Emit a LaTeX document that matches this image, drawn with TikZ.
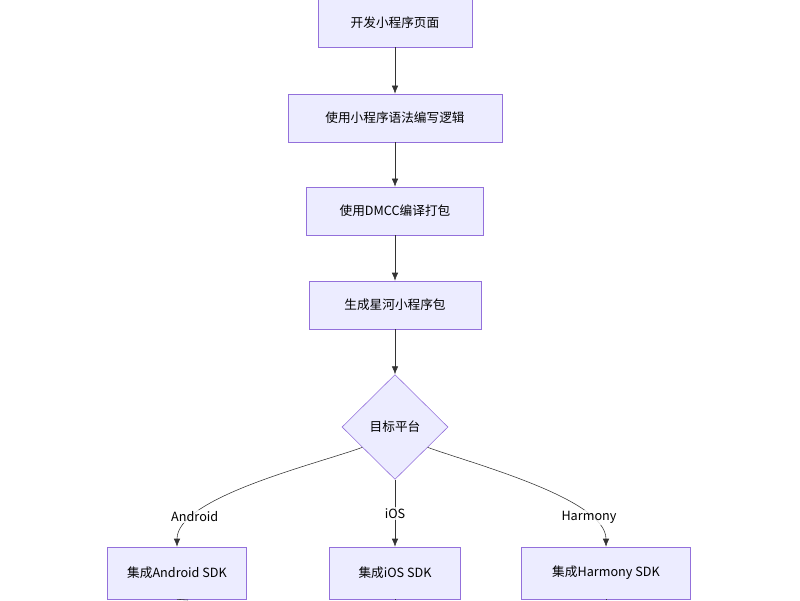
\documentclass[tikz,border=0pt]{standalone}
\usepackage{fontspec}
\setmainfont{Noto Sans CJK SC}
\usetikzlibrary{shapes.geometric,arrows.meta}
\definecolor{boxfill}{HTML}{ECECFF}
\definecolor{boxline}{HTML}{9370DB}
\definecolor{edge}{HTML}{333333}
\begin{document}
\begin{tikzpicture}[x=0.025cm, y=-0.025cm, font=\fontsize{9}{11}\selectfont]
		% Estilos
		\tikzstyle{block} = [rectangle, draw=boxline, fill=boxfill, minimum height=1.2cm, inner sep=0pt]
		\tikzstyle{decision} = [diamond, draw=boxline, fill=boxfill, minimum width=2.65cm, minimum height=2.62cm, inner sep=0pt]
		\tikzstyle{line} = [draw=edge, -{Latex[length=2mm,width=1.6mm]}]
		\tikzstyle{tag} = [fill=white, fill opacity=0.8, text opacity=1, inner sep=1pt]

		\useasboundingbox (0,0) rectangle (800,600);

		% Nodos
		\node [block, minimum width=3.85cm] (pagina) at (395,23) {开发小程序页面};
		\node [block, minimum width=5.35cm] (logica) at (395,118) {使用小程序语法编写逻辑};
		\node [block, minimum width=4.42cm] (dmcc) at (395,211) {使用DMCC编译打包};
		\node [block, minimum width=4.3cm] (paquete) at (395,305) {生成星河小程序包};
		\node [decision] (plataforma) at (395,427) {目标平台};
		\node [block, minimum width=3.47cm, minimum height=1.3cm] (android) at (177,573) {集成Android SDK};
		\node [block, minimum width=3.27cm, minimum height=1.3cm] (ios) at (395,573) {集成iOS SDK};
		\node [block, minimum width=4.22cm, minimum height=1.3cm] (harmony) at (606,573) {集成Harmony SDK};

		% Conexiones
		\path [line] (pagina) -- (logica);
		\path [line] (logica) -- (dmcc);
		\path [line] (dmcc) -- (paquete);
		\path [line] (paquete) -- (plataforma);
		\path [line] (plataforma) -- node [tag] {iOS} (ios);
		\path [line] (plataforma.south west) ++(-6,-6) coordinate (sa)
			(sa) to [out=200, in=90, looseness=0.6] node [tag, pos=0.78] {Android} (android.north);
		\path [line] (plataforma.south east) ++(6,-6) coordinate (sh)
			(sh) to [out=-20, in=90, looseness=0.6] node [tag, pos=0.78] {Harmony} (harmony.north);

		% Salidas
		\coordinate (fa) at (188,600);
		\coordinate (fi) at (395,600);
		\coordinate (fh) at (606,600);
		\draw [edge] (android.south) -- (fa);
		\draw [edge] (ios.south) -- (fi);
		\draw [edge] (harmony.south) -- (fh);
	\end{tikzpicture}
\end{document}
